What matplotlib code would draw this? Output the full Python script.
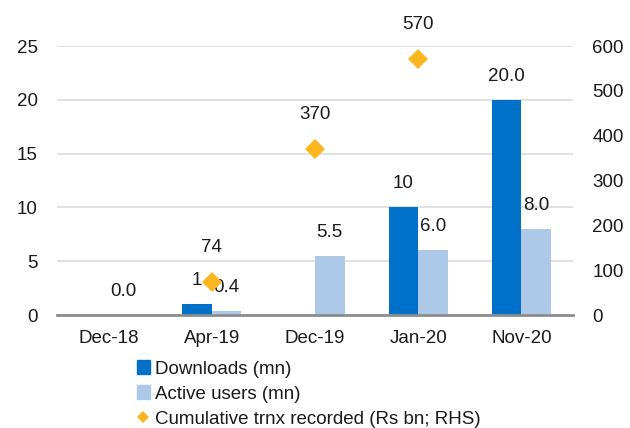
import numpy as np
import matplotlib.pyplot as plt
from matplotlib.patches import Patch
from matplotlib.lines import Line2D

plt.rcParams['font.family'] = ['Liberation Sans', 'DejaVu Sans']

periods = ['Dec-18', 'Apr-19', 'Dec-19', 'Jan-20', 'Nov-20']
downloads = [np.nan, 1, np.nan, 10, 20.0]
downloads_decimals = [1, 0, 1, 0, 1]
active_users = [0.0, 0.4, 5.5, 6.0, 8.0]
cum_trnx = [np.nan, 74, 370, 570, np.nan]

c_dl = '#0070C8'
c_au = '#AEC8E8'
c_tx = '#FDB71E'
txt = '#1a1a1a'
fs = 13.5

fig = plt.figure(figsize=(6.3, 4.28), dpi=100)
ax = fig.add_axes([0.0905, 0.264, 0.819, 0.6285])
ax2 = ax.twinx()

x = np.arange(len(periods))
w = 0.286
ax.bar(x - w / 2, downloads, w, color=c_dl, zorder=3)
ax.bar(x + w / 2, active_users, w, color=c_au, zorder=3)
ax2.plot(x, cum_trnx, 'D', color=c_tx, markersize=10, markeredgewidth=0, zorder=4)

# value labels
for xi, v, d in zip(x, downloads, downloads_decimals):
    if not np.isnan(v):
        ax.annotate(f'{v:.{d}f}', (xi - w / 2, v), xytext=(0, 17), textcoords='offset points',
                    ha='center', va='center', fontsize=fs, color=txt, zorder=5)
for xi, v in zip(x, active_users):
    ax.annotate(f'{v:.1f}', (xi + w / 2, v), xytext=(0, 17), textcoords='offset points',
                ha='center', va='center', fontsize=fs, color=txt, zorder=5)
for xi, v in zip(x, cum_trnx):
    if not np.isnan(v):
        ax2.annotate(f'{v:.0f}', (xi, v), xytext=(0, 25), textcoords='offset points',
                     ha='center', va='center', fontsize=fs, color=txt, zorder=5)

ax.set_xlim(-0.5, len(periods) - 0.5)
ax.set_ylim(0, 25)
ax2.set_ylim(0, 600)
ax.set_yticks(range(0, 30, 5))
ax2.set_yticks(range(0, 700, 100))
ax.set_xticks(x)
ax.set_xticklabels(periods)

ax.grid(axis='y', color='#D9D9D9', linewidth=1.1, zorder=0)
ax.set_axisbelow(True)
for a in (ax, ax2):
    for s in a.spines.values():
        s.set_visible(False)
    a.tick_params(length=0, labelsize=fs, colors=txt)
ax.spines['bottom'].set_visible(True)
ax.spines['bottom'].set_color('#8C8C8C')
ax.spines['bottom'].set_linewidth(2)
ax.spines['bottom'].set_zorder(6)
ax.tick_params(axis='y', pad=14)
ax.tick_params(axis='x', pad=11)
ax2.tick_params(axis='y', pad=14)

handles = [
    Patch(color=c_dl),
    Patch(color=c_au),
    Line2D([], [], marker='D', color=c_tx, linestyle='none', markersize=6, markeredgewidth=0),
]
labels = ['Downloads (mn)', 'Active users (mn)', 'Cumulative trnx recorded (Rs bn; RHS)']
fig.legend(handles, labels, loc='upper left', bbox_to_anchor=(0.217, 0.158), frameon=False,
           fontsize=fs, handlelength=0.7, handleheight=0.7, handletextpad=0.25,
           labelspacing=0.42, borderpad=0, borderaxespad=0, labelcolor=txt)

fig.savefig('out.png', dpi=100)
